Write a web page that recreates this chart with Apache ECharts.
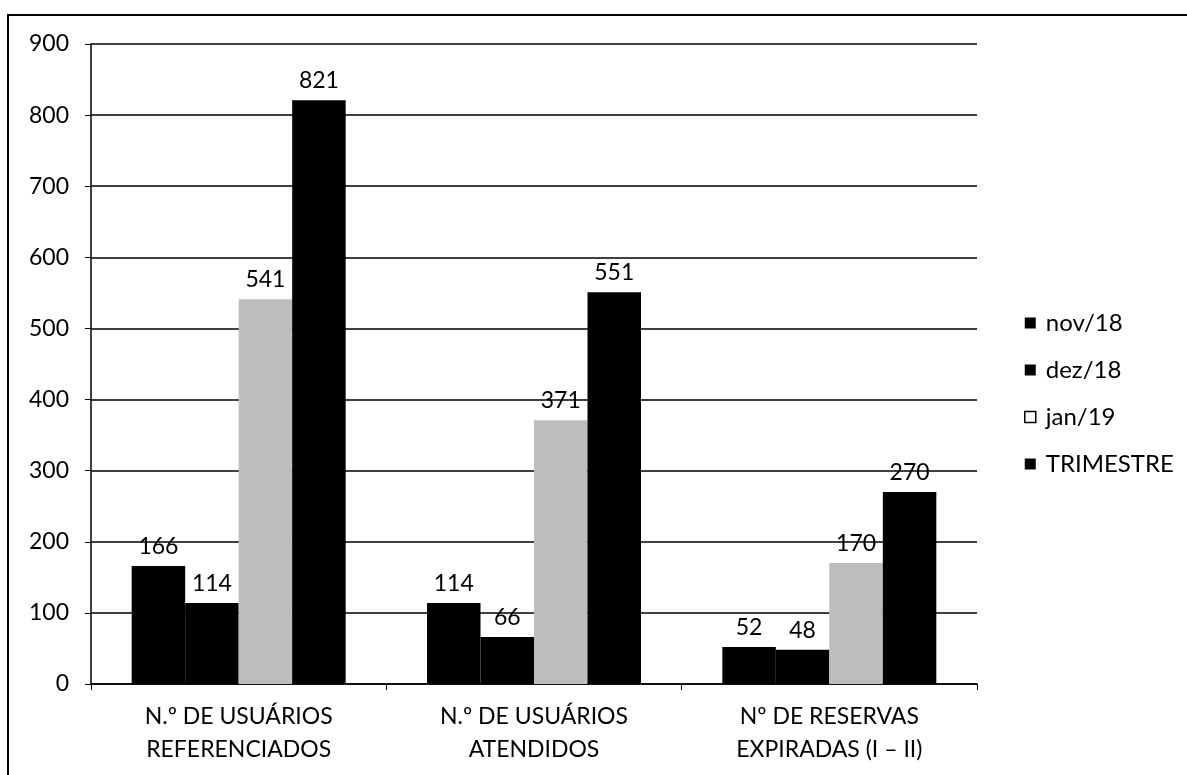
<!DOCTYPE html>
<html>
<head>
<meta charset="utf-8">
<script src="https://cdn.jsdelivr.net/npm/echarts@6/dist/echarts.min.js"></script>
<style>
  html, body { margin: 0; padding: 0; background: #fff; }
  #chart { width: 1187px; height: 775px; }
</style>
</head>
<body>
<div id="chart"></div>
<script>
// categorias e valores
const categorias = ['N.º DE USUÁRIOS\nREFERENCIADOS', 'N.º DE USUÁRIOS\nATENDIDOS', 'Nº DE RESERVAS\nEXPIRADAS (I – II)']
const nov18 = [166, 114, 52]
const dez18 = [114, 66, 48]
const jan19 = [541, 371, 170]
const trimestre = [821, 551, 270]
const yTicks = [0, 100, 200, 300, 400, 500, 600, 700, 800, 900]

const fonte = 'Lato, "Open Sans", sans-serif'

function serie(name, data, color) {
  return {
    name: name,
    type: 'bar',
    data: data,
    barWidth: 53.5,
    barGap: '0%',
    itemStyle: { color: color },
    label: {
      show: true,
      position: 'top',
      distance: 8,
      color: '#000',
      fontSize: 23,
      fontFamily: fonte
    }
  }
}

const myChart = echarts.init(document.getElementById('chart'))
myChart.setOption({
  backgroundColor: '#fff',
  animation: false,
  // moldura da imagem escaneada
  graphic: [{
    type: 'rect',
    shape: { x: 8, y: 15, width: 1200, height: 800 },
    style: { fill: 'none', stroke: '#000', lineWidth: 2 }
  }],
  grid: { left: 91, right: 210, top: 44, bottom: 91 },
  legend: {
    orient: 'vertical',
    left: 1019,
    top: 306,
    itemWidth: 11,
    itemHeight: 11,
    itemGap: 23,
    icon: 'rect',
    textStyle: { color: '#000', fontSize: 24, fontFamily: fonte, padding: [0, 0, 0, 5] },
    data: [
      { name: 'nov/18' },
      { name: 'dez/18' },
      { name: 'jan/19', itemStyle: { color: '#fff', borderColor: '#000', borderWidth: 1.5 } },
      { name: 'TRIMESTRE' }
    ]
  },
  xAxis: {
    type: 'category',
    data: categorias,
    axisLine: { lineStyle: { color: '#000', width: 1.5 } },
    axisTick: { show: true, length: 6, lineStyle: { color: '#000' } },
    axisLabel: {
      color: '#000',
      fontSize: 23,
      fontFamily: fonte,
      margin: 16,
      lineHeight: 33
    }
  },
  yAxis: {
    type: 'value',
    min: 0,
    max: 900,
    interval: 100,
    axisLine: { show: true, lineStyle: { color: '#000', width: 1.5 } },
    axisTick: { show: true, length: 6, lineStyle: { color: '#000' } },
    axisLabel: {
      color: '#000',
      fontSize: 23,
      fontFamily: fonte,
      margin: 22,
      formatter: v => (yTicks.indexOf(v) >= 0 ? String(v) : '')
    },
    splitLine: { lineStyle: { color: '#000', width: 1.5 } }
  },
  series: [
    serie('nov/18', nov18, '#000'),
    serie('dez/18', dez18, '#000'),
    serie('jan/19', jan19, '#bdbdbd'),
    serie('TRIMESTRE', trimestre, '#000')
  ]
})
</script>
</body>
</html>
